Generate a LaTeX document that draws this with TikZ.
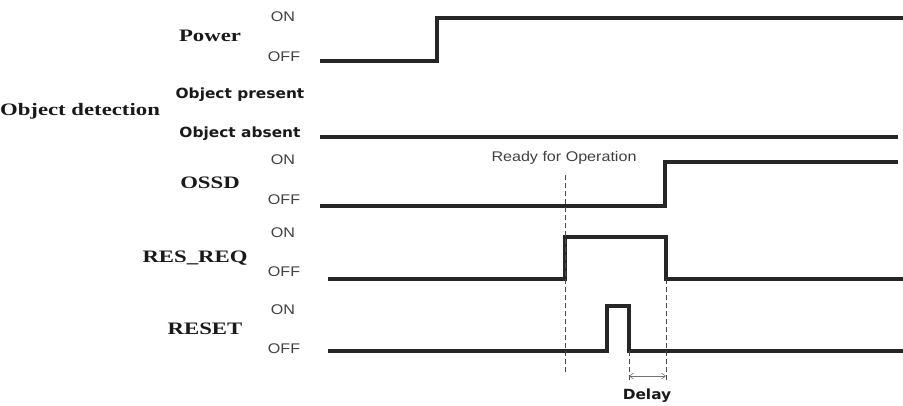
\documentclass[tikz,border=0pt]{standalone}
\usepackage{fontspec}
\usetikzlibrary{arrows.meta,positioning}
\newfontfamily\signame[FakeStretch=1.3]{Liberation Serif}
\newfontfamily\levelfnt[FakeStretch=1.15]{Liberation Sans}
\newfontfamily\notefnt[FakeStretch=1.1]{DejaVu Sans}
\tikzset{
	signal/.style={font=\signame\bfseries\fontsize{17.5}{17.5}\selectfont, text=black!90},
	level/.style={font=\levelfnt\fontsize{14}{14}\selectfont, text=black!75},
	note/.style={font=\notefnt\bfseries\fontsize{14}{14}\selectfont, text=black!90},
	wave/.style={line width=3.2pt, draw=black!85, line join=miter},
	marker/.style={line width=0.8pt, dash pattern=on 5pt off 3pt, draw=black!70},
	span/.style={line width=0.6pt, draw=black!55, {Straight Barb[length=4pt,width=6pt]}-{Straight Barb[length=4pt,width=6pt]}},
}
\begin{document}
\begin{tikzpicture}[x=1pt, y=-1pt]
	\useasboundingbox (0,0) rectangle (903,405);

	\node[signal] (pwr) at (210,36) {Power};
	\node[level] (pwron) at (283,17) {ON};
	\node[level] (pwroff) at (284,57) {OFF};

	\node[signal] (obj) at (80,111) {Object detection};
	\node[note] (objp) at (240,95) {Object present};
	\node[note] (obja) at (240,134) {Object absent};

	\node[signal] (ossd) at (210,183) {OSSD};
	\node[level] (ossdon) at (283,160) {ON};
	\node[level] (ossdoff) at (284,200) {OFF};

	\node[signal] (rreq) at (195,258) {RES\_REQ};
	\node[level] (rreqon) at (283,233) {ON};
	\node[level] (rreqoff) at (284,272) {OFF};

	\node[signal] (rst) at (205,329) {RESET};
	\node[level] (rston) at (283,310) {ON};
	\node[level] (rstoff) at (284,349) {OFF};

	\node[level] (ready) at (564,158) {Ready for Operation};
	\node[note] (delay) at (647,396) {Delay};

	\draw[wave] (320,61) -- (437,61) -- (437,18) -- (903,18);
	\draw[wave] (320,137) -- (898,137);
	\draw[wave] (320,206) -- (665,206) -- (665,162) -- (898,162);
	\draw[wave] (328,279) -- (565,279) -- (565,237) -- (666,237) -- (666,279) -- (903,279);
	\draw[wave] (328,351) -- (607,351) -- (607,306) -- (629,306) -- (629,351) -- (903,351);

	\coordinate (rdytop) at (565,175);
	\coordinate (rdybot) at (565,373);
	\coordinate (rsttop) at (629,351);
	\coordinate (rstbot) at (629,382);
	\coordinate (reqtop) at (666,279);
	\coordinate (reqbot) at (666,382);
	\coordinate (dl) at (629,376);
	\coordinate (dr) at (666,376);

	\draw[marker] (rdytop) -- (rdybot);
	\draw[marker] (rsttop) -- (rstbot);
	\draw[marker] (reqtop) -- (reqbot);
	\draw[span] (dl) -- (dr);
\end{tikzpicture}
\end{document}
